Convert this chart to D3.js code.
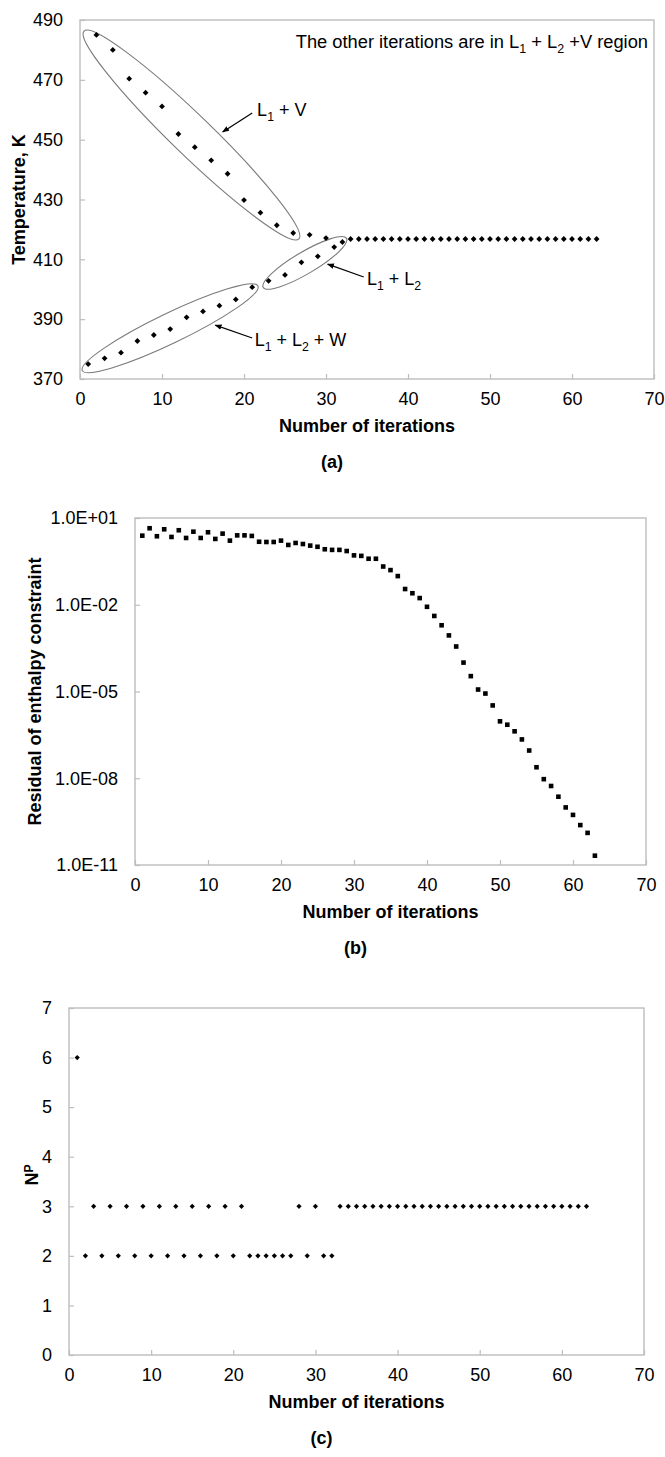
<!DOCTYPE html>
<html>
<head>
<meta charset="utf-8">
<script src="https://cdn.jsdelivr.net/npm/d3@7"></script>
<style>
  html, body { margin: 0; padding: 0; background: #fff; }
  svg { display: block; }
  text { font-family: "Liberation Sans", Arial, Helvetica, sans-serif; fill: #000; }
</style>
</head>
<body>
<div id="chart"></div>
<script>
// ---- data -------------------------------------------------------------
const iterations = d3.range(1, 64);

// (a) temperature at each iteration, K
const temperature = [
  375.0, 485.0, 376.9, 480.0, 378.8, 470.4, 382.7, 465.7, 384.7, 461.1,
  386.7, 451.9, 390.6, 447.5, 392.6, 443.1, 394.5, 438.6, 396.6, 429.8,
  400.7, 425.6, 402.8, 421.4, 404.8, 418.8, 409.0, 418.2, 411.0, 417.1,
  414.1, 415.8, 416.8, 416.8, 416.8, 416.8, 416.8, 416.8, 416.8, 416.8,
  416.8, 416.8, 416.8, 416.8, 416.8, 416.8, 416.8, 416.8, 416.8, 416.8,
  416.8, 416.8, 416.8, 416.8, 416.8, 416.8, 416.8, 416.8, 416.8, 416.8,
  416.8, 416.8, 416.8
];

// (b) residual of the enthalpy constraint
const residual = [
  2.45, 4.42, 2.34, 4.07, 2.21, 3.77, 2.04, 3.37, 2.04, 3.21,
  1.89, 2.88, 1.65, 2.51, 2.51, 2.40, 1.51, 1.48, 1.48, 1.65,
  1.17, 1.37, 1.26, 1.11, 1.01, 0.83, 0.79, 0.79, 0.72, 0.51,
  0.49, 0.39, 0.39, 0.21, 0.158, 0.098, 0.035, 0.025, 0.017, 8.5e-3,
  4.1e-3, 1.95e-3, 8.7e-4, 3.6e-4, 1.0e-4, 3.4e-5, 1.17e-5, 8.5e-6, 3.3e-6, 9.3e-7,
  7.1e-7, 4.2e-7, 2.2e-7, 9.1e-8, 2.4e-8, 9.3e-9, 5.4e-9, 2.3e-9, 9.8e-10, 5.4e-10,
  2.4e-10, 1.29e-10, 2.1e-11
];

// (c) number of phases
const phaseCount = [
  6, 2, 3, 2, 3, 2, 3, 2, 3, 2,
  3, 2, 3, 2, 3, 2, 3, 2, 3, 2,
  3, 2, 2, 2, 2, 2, 2, 3, 2, 3,
  2, 2, 3, 3, 3, 3, 3, 3, 3, 3,
  3, 3, 3, 3, 3, 3, 3, 3, 3, 3,
  3, 3, 3, 3, 3, 3, 3, 3, 3, 3,
  3, 3, 3
];

// tick values and labels
const xTicks = [0, 10, 20, 30, 40, 50, 60, 70];
const tempTicks = [370, 390, 410, 430, 450, 470, 490];
const residualTicks = [1e1, 1e-2, 1e-5, 1e-8, 1e-11];
const residualTickLabels = ["1.0E+01", "1.0E-02", "1.0E-05", "1.0E-08", "1.0E-11"];
const phaseTicks = [0, 1, 2, 3, 4, 5, 6, 7];

// phase-region outlines on panel (a): ends of each ellipse in (iteration, K)
const regionNames = ["L1+V", "L1+L2", "L1+L2+W"];
const regionEnds = [
  [[0.49, 486.3], [26.7, 416.8]],
  [[22.35, 400.6], [32.5, 417.0]],
  [[0.28, 372.8], [21.7, 401.1]]
];
// label anchor and arrow (start -> tip) for each region, in (iteration, K)
const regionLabelAt = [[21.6, 457.9], [35.0, 401.4], [21.3, 381.0]];
const regionArrows = [
  [[21.0, 458.9], [17.4, 452.6]],
  [[34.6, 404.1], [30.2, 408.4]],
  [[21.0, 383.7], [16.5, 388.0]]
];
// label pieces: [text, shift] where shift is "sub", "sup" or null
const regionLabelParts = [
  [["L", null], ["1", "sub"], [" + V", null]],
  [["L", null], ["1", "sub"], [" + L", null], ["2", "sub"]],
  [["L", null], ["1", "sub"], [" + L", null], ["2", "sub"], [" + W", null]]
];
const noteParts = [["The other iterations are in L", null], ["1", "sub"], [" + L", null], ["2", "sub"], [" +V region", null]];

// ---- drawing ------------------------------------------------------------
const W = 665, H = 1457;
const FONT = 18;
const FRAME = "#bdbdbd";

const svg = d3.select("#chart").append("svg")
  .attr("width", W).attr("height", H)
  .attr("viewBox", `0 0 ${W} ${H}`);

svg.append("rect").attr("width", W).attr("height", H).attr("fill", "#fff");

svg.append("defs").append("marker")
  .attr("id", "arrowhead")
  .attr("viewBox", "0 0 10 10")
  .attr("refX", 9).attr("refY", 5)
  .attr("markerWidth", 7).attr("markerHeight", 7)
  .attr("markerUnits", "userSpaceOnUse")
  .attr("orient", "auto")
  .append("path").attr("d", "M0,1 L10,5 L0,9 Z").attr("fill", "#000");

// text made of runs, with small shifted runs for indices
function richText(sel, parts, size) {
  let offset = 0;
  parts.forEach(([t, shift]) => {
    const ts = sel.append("tspan").text(t);
    const target = shift === "sub" ? size * 0.28 : shift === "sup" ? -size * 0.26 : 0;
    ts.attr("dy", target - offset);
    if (shift) ts.attr("font-size", size * 0.68);
    offset = target;
  });
}

function panel(cfg) {
  const g = svg.append("g");
  const x = d3.scaleLinear().domain([0, 70]).range([cfg.left, cfg.right]);
  const y = cfg.y.range([cfg.bottom, cfg.top]);

  // plot frame
  g.append("rect")
    .attr("x", cfg.left).attr("y", cfg.top)
    .attr("width", cfg.right - cfg.left).attr("height", cfg.bottom - cfg.top)
    .attr("fill", "none").attr("stroke", FRAME).attr("stroke-width", 1.4);

  // x axis: inward ticks, labels below
  const xAxis = g.append("g").attr("transform", `translate(0,${cfg.bottom})`)
    .call(d3.axisBottom(x).tickValues(xTicks).tickSizeInner(-5).tickSizeOuter(0).tickPadding(13));
  xAxis.select(".domain").remove();
  xAxis.selectAll(".tick line").attr("stroke", FRAME).attr("stroke-width", 1.2);
  xAxis.selectAll(".tick text").attr("font-size", FONT).attr("font-family", null).attr("fill", "#000");

  // y axis
  const yAxis = g.append("g").attr("transform", `translate(${cfg.left},0)`)
    .call(d3.axisLeft(y).tickValues(cfg.yTicks).tickFormat(cfg.yFormat)
      .tickSizeInner(-5).tickSizeOuter(0).tickPadding(17));
  yAxis.select(".domain").remove();
  yAxis.selectAll(".tick line").attr("stroke", FRAME).attr("stroke-width", 1.2);
  yAxis.selectAll(".tick text").attr("font-size", FONT).attr("font-family", null).attr("fill", "#000");

  // x title
  g.append("text")
    .attr("x", (cfg.left + cfg.right) / 2).attr("y", cfg.bottom + 53)
    .attr("text-anchor", "middle").attr("font-size", FONT).attr("font-weight", "bold")
    .text("Number of iterations");

  // panel tag
  g.append("text")
    .attr("x", (cfg.left + cfg.right) / 2 - 35).attr("y", cfg.bottom + 89)
    .attr("text-anchor", "middle").attr("font-size", FONT).attr("font-weight", "bold")
    .text(cfg.tag);

  // y title
  const yt = g.append("text")
    .attr("transform", `translate(${cfg.yTitleX},${cfg.yTitleY ?? (cfg.top + cfg.bottom) / 2}) rotate(-90)`)
    .attr("text-anchor", "middle").attr("font-size", FONT).attr("font-weight", "bold");
  richText(yt, cfg.yTitle, FONT);

  return { g, x, y };
}

// ---- (a) temperature ----
const A = panel({
  left: 80, right: 654, top: 20, bottom: 379,
  y: d3.scaleLinear().domain([370, 490]),
  yTicks: tempTicks, yFormat: d3.format("d"),
  yTitle: [["Temperature, K", null]], yTitleX: 25, tag: "(a)"
});

// phase-region ellipses
regionEnds.forEach(([p, q], i) => {
  const x1 = A.x(p[0]), y1 = A.y(p[1]), x2 = A.x(q[0]), y2 = A.y(q[1]);
  const cx = (x1 + x2) / 2, cy = (y1 + y2) / 2;
  const rx = Math.hypot(x2 - x1, y2 - y1) / 2;
  const ang = Math.atan2(y2 - y1, x2 - x1) * 180 / Math.PI;
  const ry = [20, 11, 15][i];
  A.g.append("ellipse")
    .attr("cx", cx).attr("cy", cy).attr("rx", rx).attr("ry", ry)
    .attr("transform", `rotate(${ang},${cx},${cy})`)
    .attr("fill", "none").attr("stroke", "#7a7a7a").attr("stroke-width", 1.1);
});

const diamond = r => `M0,${-r}L${r},0L0,${r}L${-r},0Z`;

A.g.append("g").selectAll("path").data(iterations).join("path")
  .attr("d", diamond(2.9))
  .attr("transform", (d, i) => `translate(${A.x(d)},${A.y(temperature[i])})`)
  .attr("fill", "#000");

// arrows and labels
regionArrows.forEach(([s, e]) => {
  A.g.append("line")
    .attr("x1", A.x(s[0])).attr("y1", A.y(s[1]))
    .attr("x2", A.x(e[0])).attr("y2", A.y(e[1]))
    .attr("stroke", "#000").attr("stroke-width", 1.2)
    .attr("marker-end", "url(#arrowhead)");
});
regionLabelAt.forEach((p, i) => {
  const t = A.g.append("text").attr("x", A.x(p[0])).attr("y", A.y(p[1])).attr("font-size", FONT);
  richText(t, regionLabelParts[i], FONT);
});
const note = A.g.append("text")
  .attr("x", A.x(70) - 6).attr("y", A.y(480.6)).attr("text-anchor", "end").attr("font-size", 18.3);
richText(note, noteParts, 18.3);

// ---- (b) residual ----
const B = panel({
  left: 135, right: 646, top: 518, bottom: 865,
  y: d3.scaleLog().domain([1e-11, 1e1]),
  yTicks: residualTicks, yFormat: (d, i) => residualTickLabels[i],
  yTitle: [["Residual of enthalpy constraint", null]], yTitleX: 41, tag: "(b)"
});
const sq = 4.6;
B.g.append("g").selectAll("rect").data(iterations).join("rect")
  .attr("x", d => B.x(d) - sq / 2)
  .attr("y", (d, i) => B.y(residual[i]) - sq / 2)
  .attr("width", sq).attr("height", sq)
  .attr("fill", "#000");

// ---- (c) number of phases ----
const C = panel({
  left: 69, right: 644, top: 1008, bottom: 1355,
  y: d3.scaleLinear().domain([0, 7]),
  yTicks: phaseTicks, yFormat: d3.format("d"),
  yTitle: [["N", null], ["P", "sup"]], yTitleX: 38, yTitleY: 1175, tag: "(c)"
});
C.g.append("g").selectAll("path").data(iterations).join("path")
  .attr("d", diamond(2.6))
  .attr("transform", (d, i) => `translate(${C.x(d)},${C.y(phaseCount[i])})`)
  .attr("fill", "#000");
</script>
</body>
</html>
